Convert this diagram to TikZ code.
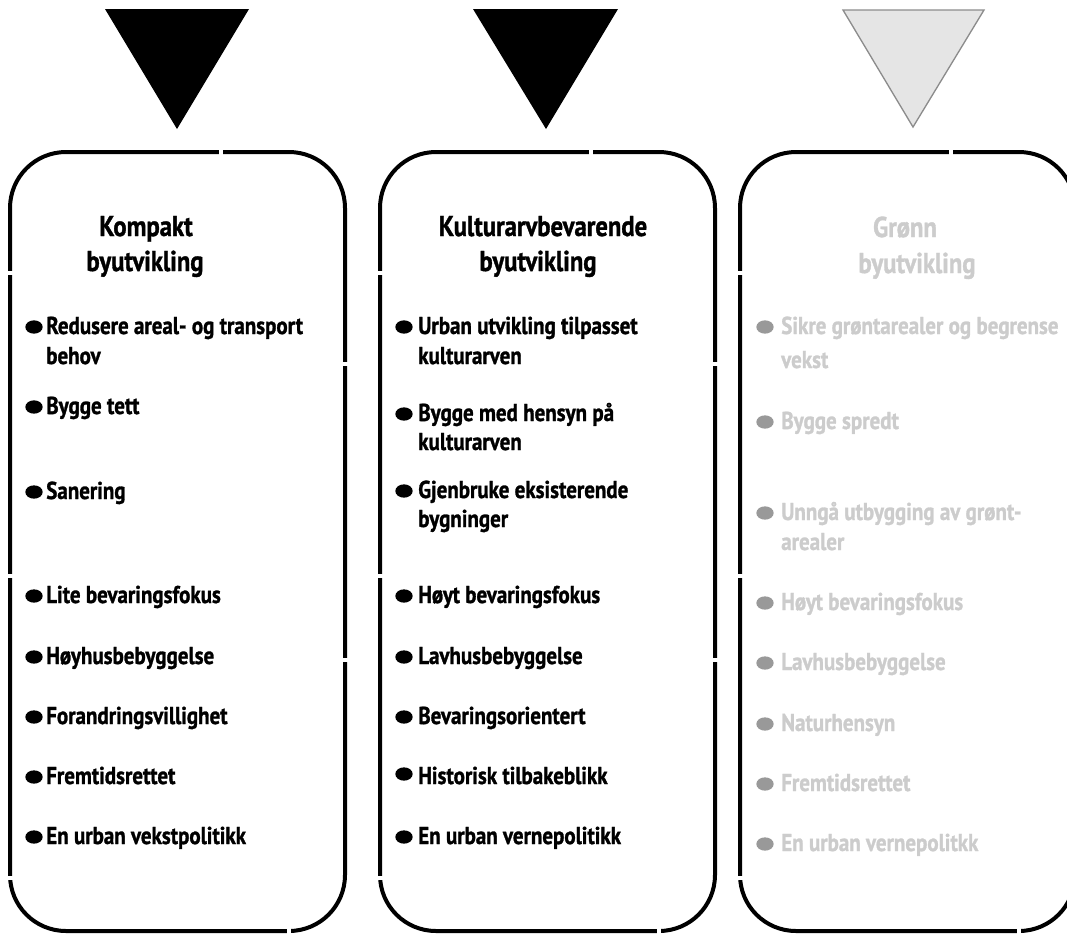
\documentclass[tikz,border=0pt]{standalone}
\usepackage{fontspec}
\setmainfont{PT Sans}[FakeStretch=0.86, BoldFeatures={FakeBold=1.2}]
\usetikzlibrary{shapes.geometric}

\begin{document}
\begin{tikzpicture}[%
        x=0.75pt, y=-0.75pt,%
        kolonne/.style={%
            line width=3pt,%
            rounded corners=42pt%
        },%
        tittel/.style={%
            anchor=base,%
            inner sep=0pt,%
            font=\fontsize{21.5}{26}\selectfont\bfseries%
        },%
        punkt/.style={%
            anchor=base west,%
            inner sep=0pt,%
            font=\fontsize{18.3}{22}\selectfont\bfseries%
        },%
        prikk/.style={%
            ellipse,%
            inner sep=0pt,%
            minimum width=13pt,%
            minimum height=10pt,%
            fill=black%
        },%
        blek/.style={text=black!20},%
        blekprikk/.style={prikk, fill=black!40}%
    ]
    \useasboundingbox (0,0) rectangle (1067,933);
    % trekanter
    \fill (105,9) -- (249,9) -- (177,129) -- cycle;
    \fill (473,9) -- (618,9) -- (546,129) -- cycle;
    \filldraw [fill=black!10, draw=black!45, line width=1pt] (843,10) -- (984,10) -- (913,127) -- cycle;
    % kolonner med brudd i kanten
    \foreach \dx in {0,370,730} {
        \draw [kolonne] (\dx+10,152) rectangle (\dx+345,931);
        \fill [white] (\dx+219,145) rectangle (\dx+223,160);
        \foreach \gy in {273,576,878}
            \fill [white] (\dx+3,\gy-2) rectangle (\dx+17,\gy+2);
        \foreach \gy in {364,660}
            \fill [white] (\dx+338,\gy-2) rectangle (\dx+352,\gy+2);
        \fill [white] (\dx+287,924) rectangle (\dx+291,938);
    }
    % kompakt
    \node (t1a) at (146,236) [tittel]{Kompakt};
    \node (t1b) at (145,271) [tittel]{byutvikling};
    \node (b11) at (34,327) [prikk]{};
    \node (p11) at (46,334) [punkt]{Redusere areal- og transport};
    \node (p11b) at (46,364) [punkt]{behov};
    \node (b12) at (34,407) [prikk]{};
    \node (p12) at (46,414) [punkt]{Bygge tett};
    \node (b13) at (34,492) [prikk]{};
    \node (p13) at (46,499) [punkt]{Sanering};
    \node (b14) at (34,596) [prikk]{};
    \node (p14) at (46,603) [punkt]{Lite bevaringsfokus};
    \node (b15) at (34,657) [prikk]{};
    \node (p15) at (46,664) [punkt]{Høyhusbebyggelse};
    \node (b16) at (34,717) [prikk]{};
    \node (p16) at (46,724) [punkt]{Forandringsvillighet};
    \node (b17) at (34,777) [prikk]{};
    \node (p17) at (46,784) [punkt]{Fremtidsrettet};
    \node (b18) at (34,837) [prikk]{};
    \node (p18) at (46,844) [punkt]{En urban vekstpolitikk};
    % kulturarvbevarende
    \node (t2a) at (543,236) [tittel]{Kulturarvbevarende};
    \node (t2b) at (538,271) [tittel]{byutvikling};
    \node (b21) at (404,327) [prikk]{};
    \node (p21) at (418,334) [punkt]{Urban utvikling tilpasset};
    \node (p21b) at (418,364) [punkt]{kulturarven};
    \node (b22) at (404,414) [prikk]{};
    \node (p22) at (418,421) [punkt]{Bygge med hensyn på};
    \node (p22b) at (418,450) [punkt]{kulturarven};
    \node (b23) at (404,491) [prikk]{};
    \node (p23) at (418,498) [punkt]{Gjenbruke eksisterende};
    \node (p23b) at (418,527) [punkt]{bygninger};
    \node (b24) at (404,596) [prikk]{};
    \node (p24) at (418,603) [punkt]{Høyt bevaringsfokus};
    \node (b25) at (404,657) [prikk]{};
    \node (p25) at (418,664) [punkt]{Lavhusbebyggelse};
    \node (b26) at (404,717) [prikk]{};
    \node (p26) at (418,724) [punkt]{Bevaringsorientert};
    \node (b27) at (404,774) [prikk]{};
    \node (p27) at (418,784) [punkt]{Historisk tilbakeblikk};
    \node (b28) at (404,837) [prikk]{};
    \node (p28) at (418,844) [punkt]{En urban vernepolitikk};
    % grønn
    \node (t3a) at (905,237) [tittel, blek]{Grønn};
    \node (t3b) at (917,273) [tittel, blek]{byutvikling};
    \node (b31) at (765,327) [blekprikk]{};
    \node (p31) at (781,334) [punkt, blek]{Sikre grøntarealer og begrense};
    \node (p31b) at (781,368) [punkt, blek]{vekst};
    \node (b32) at (765,422) [blekprikk]{};
    \node (p32) at (781,429) [punkt, blek]{Bygge spredt};
    \node (b33) at (765,513) [blekprikk]{};
    \node (p33) at (781,520) [punkt, blek]{Unngå utbygging av grønt-};
    \node (p33b) at (781,550) [punkt, blek]{arealer};
    \node (b34) at (765,603) [blekprikk]{};
    \node (p34) at (781,610) [punkt, blek]{Høyt bevaringsfokus};
    \node (b35) at (765,663) [blekprikk]{};
    \node (p35) at (781,670) [punkt, blek]{Lavhusbebyggelse};
    \node (b36) at (765,724) [blekprikk]{};
    \node (p36) at (781,731) [punkt, blek]{Naturhensyn};
    \node (b37) at (765,784) [blekprikk]{};
    \node (p37) at (781,791) [punkt, blek]{Fremtidsrettet};
    \node (b38) at (765,844) [blekprikk]{};
    \node (p38) at (781,851) [punkt, blek]{En urban vernepolitkk};
\end{tikzpicture}
\end{document}
